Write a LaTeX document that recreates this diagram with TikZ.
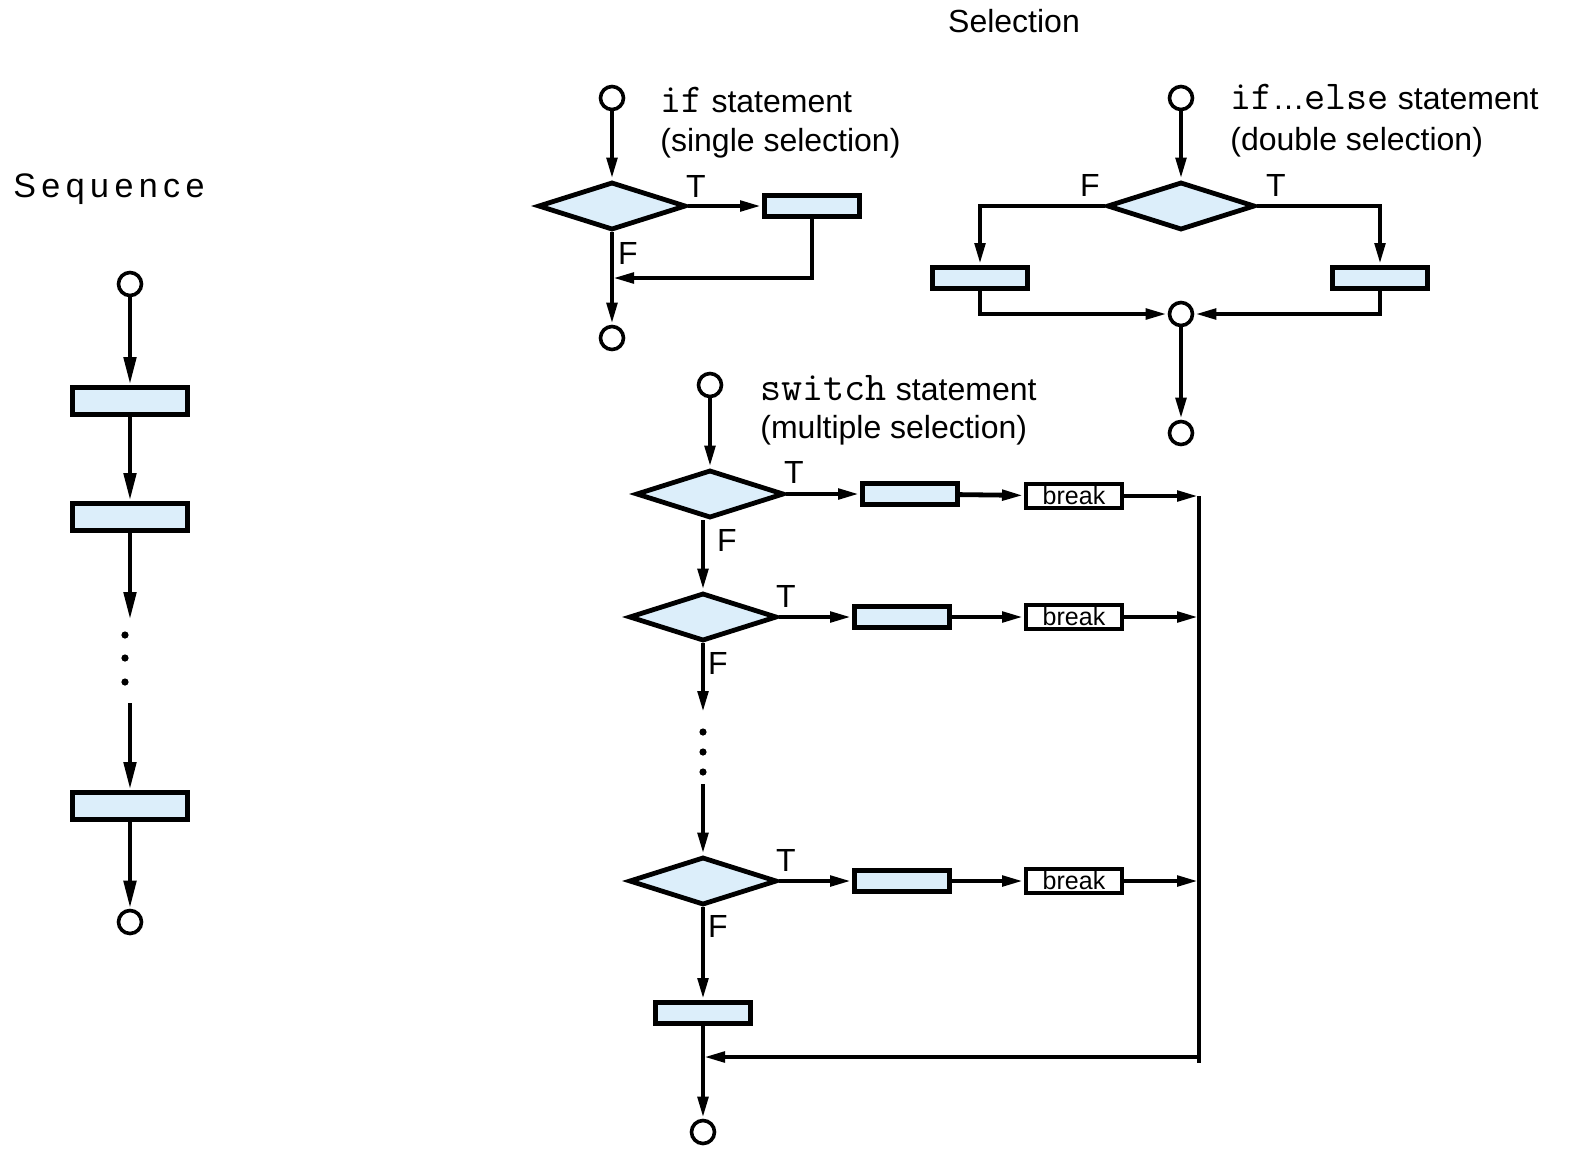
\documentclass[tikz,border=0pt]{standalone}
\usepackage{fontspec}
\setmainfont{Liberation Sans}
\setmonofont{Latin Modern Mono}
\usetikzlibrary{arrows.meta,shapes.geometric}
\definecolor{boxblue}{RGB}{220,238,250}
\newcommand\code[1]{{\ttfamily\fontsize{20.5}{22}\selectfont #1}}
\tikzset{
 wire/.style={line width=2.4pt},
 flow/.style={wire,-{Triangle[length=11pt,width=5pt]}},
 bigflow/.style={wire,-{Triangle[length=14pt,width=6pt]}},
 act/.style={draw,line width=2.4pt,fill=boxblue,minimum width=47.6pt,minimum height=10.6pt,inner sep=0pt},
 seqact/.style={act,minimum width=57.6pt,minimum height=13.6pt},
 brk/.style={draw,line width=2pt,fill=white,minimum width=48pt,minimum height=12pt,inner sep=0pt,font=\fontsize{12.5}{12.5}\selectfont},
 dec/.style={diamond,draw,line width=2.4pt,fill=boxblue,minimum width=74pt,minimum height=24pt,inner sep=0pt},
 term/.style={circle,draw,line width=1.8pt,minimum size=11.5pt,inner sep=0pt},
 dotmark/.style={circle,fill,inner sep=0pt,minimum size=3.6pt},
 lbl/.style={inner sep=0pt,font=\fontsize{16}{19}\selectfont}
}
\begin{document}
\begin{tikzpicture}[x=0.5pt,y=-0.5pt]
 \useasboundingbox (0,0) rectangle (1570,1148);
 \node[lbl,anchor=base] (seltitle) at (1014,32) {Selection};
 \node[lbl,anchor=base west] (seqtitle) at (13,197) {\fontsize{17}{19}\selectfont\addfontfeature{LetterSpace=16}Sequence};
 \node[term] (sstart) at (130,284) {};
 \node[seqact] (s1) at (130,401) {};
 \node[seqact] (s2) at (130,517) {};
 \coordinate (sgap) at (130,620);
 \node[dotmark] (sd1) at (125,635) {};
 \node[dotmark] (sd2) at (125,658) {};
 \node[dotmark] (sd3) at (125,682) {};
 \coordinate (sback) at (130,703);
 \node[seqact] (s3) at (130,806) {};
 \node[term] (send) at (130,922) {};
 \draw[bigflow] (sstart) -- (s1);
 \draw[bigflow] (s1) -- (s2);
 \draw[bigflow] (s2) -- (sgap);
 \draw[bigflow] (sback) -- (s3);
 \draw[bigflow] (s3) -- (send);
 \node[term] (ifstart) at (612,98) {};
 \node[dec] (ifdec) at (612,206) {};
 \node[act] (ifact) at (812,206) {};
 \coordinate (ifjoin) at (612,278);
 \node[term] (ifend) at (612,338) {};
 \node[lbl] (ifT) at (696,186) {T};
 \node[lbl] (ifF) at (628,253) {F};
 \node[lbl,anchor=base west] (ifhead) at (660,112) {\code{if} statement};
 \node[lbl,anchor=base west] (ifsub) at (660,151) {(single selection)};
 \draw[flow] (ifstart) -- (ifdec);
 \draw[flow] (ifdec) -- (ifact);
 \draw[flow] (ifact.south) |- (ifjoin);
 \draw[wire] (ifdec) -- (ifjoin);
 \draw[flow] (ifjoin) -- (ifend);
 \node[term] (iestart) at (1181,98) {};
 \node[dec] (iedec) at (1181,206) {};
 \node[act] (ieF) at (980,278) {};
 \node[act] (ieT) at (1380,278) {};
 \node[term] (iemid) at (1181,314) {};
 \node[term] (ieend) at (1181,433) {};
 \node[lbl] (ieFl) at (1090,185) {F};
 \node[lbl] (ieTl) at (1276,185) {T};
 \node[lbl,anchor=base west] (iehead) at (1230,109) {\code{if}\ldots\code{else} statement};
 \node[lbl,anchor=base west] (iesub) at (1230,150) {(double selection)};
 \draw[flow] (iestart) -- (iedec);
 \draw[flow] (iedec.west) -| (ieF);
 \draw[flow] (iedec.east) -| (ieT);
 \draw[flow] (ieF) |- (iemid);
 \draw[flow] (ieT) |- (iemid);
 \draw[flow] (iemid) -- (ieend);
 \node[term] (swstart) at (710,385) {};
 \node[lbl,anchor=base west] (swhead) at (760,400) {\code{switch} statement};
 \node[lbl,anchor=base west] (swsub) at (760,438) {(multiple selection)};
 \node[dec] (sw1) at (710,494) {};
 \node[act] (swa1) at (910,494) {};
 \node[brk] (swb1) at (1074,496) {break};
 \coordinate (swm1) at (1199,496);
 \node[lbl] (swT1) at (794,472) {T};
 \node[lbl] (swF1) at (727,540) {F};
 \node[dec] (sw2) at (703,617) {};
 \node[act] (swa2) at (902,617) {};
 \node[brk] (swb2) at (1074,617) {break};
 \coordinate (swm2) at (1199,617);
 \node[lbl] (swT2) at (786,596) {T};
 \node[lbl] (swF2) at (718,663) {F};
 \coordinate (swgap) at (703,713);
 \node[dotmark] (swd1) at (703,732) {};
 \node[dotmark] (swd2) at (703,752) {};
 \node[dotmark] (swd3) at (703,772) {};
 \coordinate (swback) at (703,784);
 \node[dec] (sw3) at (703,881) {};
 \node[act] (swa3) at (902,881) {};
 \node[brk] (swb3) at (1074,881) {break};
 \coordinate (swm3) at (1199,881);
 \node[lbl] (swT3) at (786,860) {T};
 \node[lbl] (swF3) at (718,926) {F};
 \node[act] (swlast) at (703,1013) {};
 \node[term] (swend) at (703,1132) {};
 \coordinate (swjoin) at (1199,1057);
 \coordinate (swbot) at (1199,1063);
 \draw[flow] (swstart) -- (sw1);
 \draw[flow] (sw1) -- (swa1);
 \draw[flow] (swa1) -- (swb1);
 \draw[flow] (swb1) -- (swm1);
 \draw[flow] (sw1.south -| sw2) -- (sw2);
 \draw[flow] (sw2) -- (swa2);
 \draw[flow] (swa2) -- (swb2);
 \draw[flow] (swb2) -- (swm2);
 \draw[flow] (sw2) -- (swgap);
 \draw[flow] (swback) -- (sw3);
 \draw[flow] (sw3) -- (swa3);
 \draw[flow] (swa3) -- (swb3);
 \draw[flow] (swb3) -- (swm3);
 \draw[flow] (sw3) -- (swlast);
 \draw[wire] (swm1) -- (swbot);
 \draw[flow] (swjoin) -- (swlast |- swjoin);
 \draw[flow] (swlast) -- (swend);
\end{tikzpicture}
\end{document}
